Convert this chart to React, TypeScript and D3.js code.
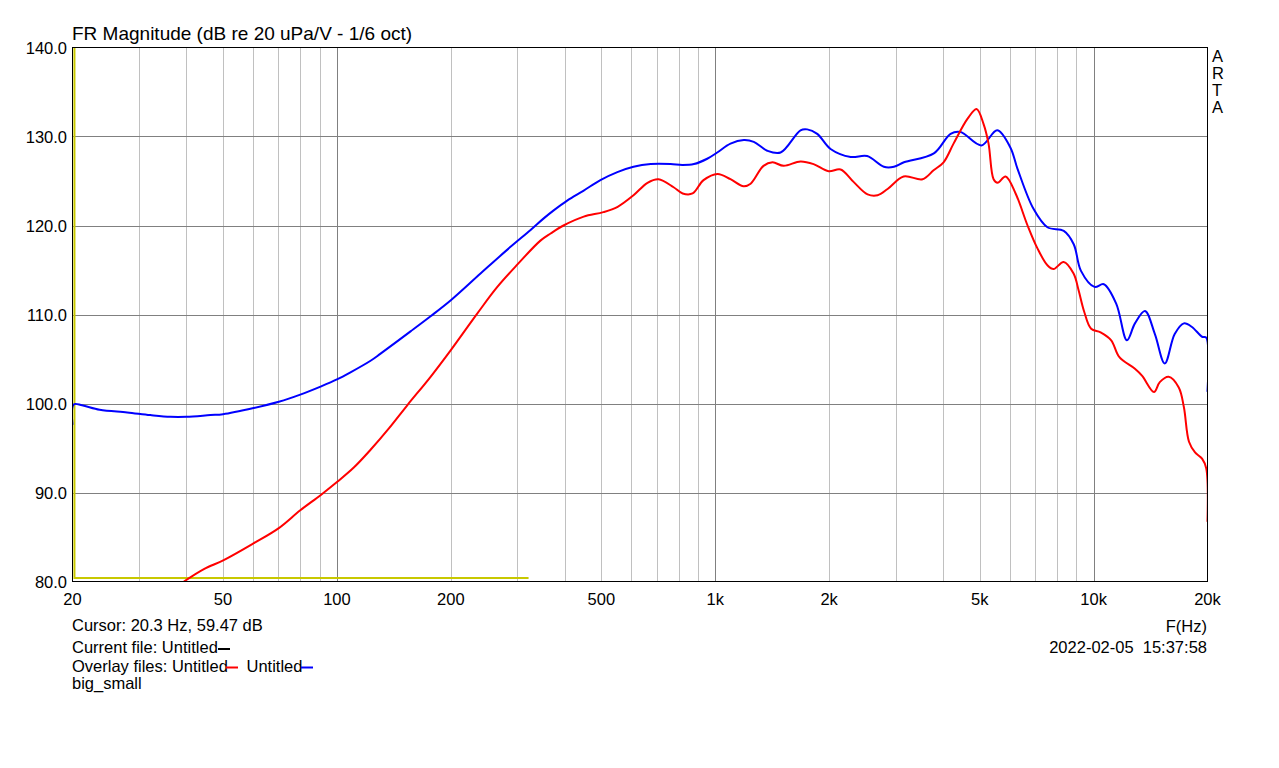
import React from "react";
import * as d3 from "d3";

// ---- Data ----
const blueSeries: [number, number][] = [
  [20, 97.6], [20.15, 99.9], [21.2, 99.8], [23.6, 99.3], [27.9, 99.0], [32.1, 98.7],
  [36.3, 98.5], [40, 98.5], [46.3, 98.7], [50, 98.8], [60.3, 99.5], [70.2, 100.2],
  [80, 101.0], [90.5, 101.9], [100, 102.7], [108.6, 103.5], [122.7, 104.8], [130.4, 105.6],
  [156.5, 108.1], [176.8, 109.8], [200, 111.6], [239.6, 114.6], [287.6, 117.6], [325, 119.5],
  [352, 120.8], [374, 121.7], [406, 122.8], [448, 123.9], [497, 125.1], [551, 126.0],
  [608, 126.6], [675, 126.9], [762, 126.9], [818, 126.8], [878, 126.9], [952, 127.5],
  [1012, 128.2], [1097, 129.2], [1190, 129.6], [1264, 129.4], [1372, 128.4], [1488, 128.2],
  [1680, 130.7], [1750, 130.8], [1860, 130.3], [2017, 128.6], [2280, 127.7], [2520, 127.8],
  [2790, 126.6], [2966, 126.6], [3152, 127.1], [3782, 128.1], [4188, 130.3], [4450, 130.5],
  [5050, 129.0], [5560, 130.7], [6020, 128.8], [6290, 126.4], [6930, 121.9], [7550, 119.8],
  [8340, 119.4], [8860, 117.9], [9260, 114.9], [10050, 113.1], [10640, 113.4], [11480, 111.2],
  [12250, 107.1], [12860, 109.0], [13670, 110.4], [14520, 107.8], [15420, 104.5], [16380, 107.8],
  [17320, 109.0], [18200, 108.6], [19350, 107.5], [19850, 107.4], [20000, 101.3],
];

const redSeries: [number, number][] = [
  [39.4, 80.0], [44.5, 81.4], [50.2, 82.4], [60.3, 84.3], [70.2, 86.0], [80, 88.0],
  [90.5, 89.7], [100.2, 91.2], [110.8, 92.8], [122.7, 94.8], [137.2, 97.2], [153.4, 99.8],
  [176.8, 103.0], [200, 106.0], [234.8, 110.1], [265.4, 113.1], [299.6, 115.6], [345, 118.3],
  [367, 119.1], [397, 120.0], [449, 121.0], [506, 121.5], [552, 122.1], [608, 123.4],
  [662, 124.8], [708, 125.2], [776, 124.3], [820, 123.6], [871, 123.6], [931, 125.1],
  [1014, 125.8], [1097, 125.2], [1188, 124.4], [1240, 124.7], [1341, 126.7], [1417, 127.1],
  [1516, 126.7], [1680, 127.2], [1819, 126.9], [1993, 126.1], [2144, 126.3], [2320, 124.9],
  [2527, 123.5], [2686, 123.4], [2854, 124.1], [3146, 125.5], [3531, 125.2], [3776, 126.2],
  [4012, 127.1], [4264, 129.2], [4644, 132.0], [4904, 133.1], [5119, 131.4], [5276, 129.2],
  [5440, 125.2], [5574, 124.8], [5852, 125.5], [6220, 123.6], [6690, 120.0], [7110, 117.4],
  [7560, 115.5], [7840, 115.1], [8333, 115.9], [8852, 114.6], [9130, 112.7], [9430, 110.4],
  [9850, 108.4], [10436, 108.0], [11130, 107.1], [11700, 105.2], [12860, 103.9], [13440, 103.1],
  [14440, 101.3], [14960, 102.4], [15790, 103.0], [16790, 101.8], [17320, 99.6], [17870, 95.7],
  [18540, 94.5], [19350, 93.8], [19850, 92.7], [20000, 86.7],
];

const yellowSeries: [number, number][] = [
  [20.24, 141], [20.24, 80.38], [321, 80.38],
];

const yTicks = [80, 90, 100, 110, 120, 130, 140];
const xTickValues = [20, 50, 100, 200, 500, 1000, 2000, 5000, 10000, 20000];
const xTickLabels = ["20", "50", "100", "200", "500", "1k", "2k", "5k", "10k", "20k"];
const majorGrid = [100, 1000, 10000];
const minorGrid: number[] = [];
[10, 100, 1000, 10000].forEach((dec) => {
  for (let m = 2; m <= 9; m++) {
    const v = dec * m;
    if (v > 20 && v < 20000) minorGrid.push(v);
  }
});

const titleText = "FR Magnitude (dB re 20 uPa/V - 1/6 oct)";
const artaLetters = ["A", "R", "T", "A"];

const W = 1279;
const H = 768;
const L = 72.5, R = 1207.5, T = 47.5, B = 581.5;
const FONT = "'Liberation Sans', Arial, sans-serif";

export default function App() {
  const x = d3.scaleLog().domain([20, 20000]).range([L, R]);
  const y = d3.scaleLinear().domain([80, 140]).range([B, T]);
  const line = d3
    .line<[number, number]>()
    .x((d) => x(d[0]))
    .y((d) => y(d[1]))
    .curve(d3.curveCatmullRom.alpha(0.5));
  const straight = d3
    .line<[number, number]>()
    .x((d) => x(d[0]))
    .y((d) => y(d[1]));

  return (
    <svg
      width={W}
      height={H}
      style={{ position: "absolute", left: 0, top: 0, background: "#fff" }}
      fontFamily={FONT}
    >
      <defs>
        <clipPath id="plotClip">
          <rect x={L} y={T} width={R - L} height={B - T} />
        </clipPath>
      </defs>
      <rect x={0} y={0} width={W} height={H} fill="#fff" />

      {minorGrid.map((v) => (
        <line key={"mi" + v} x1={Math.round(x(v)) + 0.5} x2={Math.round(x(v)) + 0.5} y1={T} y2={B} stroke="#c0c0c0" strokeWidth={1} />
      ))}
      {majorGrid.map((v) => (
        <line key={"ma" + v} x1={Math.round(x(v)) + 0.5} x2={Math.round(x(v)) + 0.5} y1={T} y2={B} stroke="#808080" strokeWidth={1} />
      ))}
      {yTicks.slice(1, -1).map((v) => (
        <line key={"hy" + v} x1={L} x2={R} y1={Math.round(y(v)) + 0.5} y2={Math.round(y(v)) + 0.5} stroke="#808080" strokeWidth={1} />
      ))}

      <g clipPath="url(#plotClip)">
        <path d={straight(yellowSeries) || ""} fill="none" stroke="#c8c800" strokeWidth={2} />
        <path d={line(blueSeries) || ""} fill="none" stroke="#0000ff" strokeWidth={2} />
        <path d={line(redSeries) || ""} fill="none" stroke="#ff0000" strokeWidth={2} />
      </g>

      <rect x={L} y={T} width={R - L} height={B - T} fill="none" stroke="#000" strokeWidth={1} />

      {yTicks.map((v) => (
        <text key={"yl" + v} x={67} y={y(v) + 6} textAnchor="end" fontSize={16.5} fill="#000">
          {v.toFixed(1)}
        </text>
      ))}
      {xTickValues.map((v, i) => (
        <text key={"xl" + v} x={x(v)} y={605} textAnchor="middle" fontSize={16.5} fill="#000">
          {xTickLabels[i]}
        </text>
      ))}

      <text x={72} y={39.5} fontSize={19} fill="#000">{titleText}</text>

      {artaLetters.map((c, i) => (
        <text key={"a" + i} x={1212} y={61.5 + i * 17} fontSize={16.5} fill="#000">{c}</text>
      ))}

      <text x={1207} y={631.5} textAnchor="end" fontSize={16.5} fill="#000">F(Hz)</text>
      <text x={1207} y={653.3} textAnchor="end" fontSize={16.5} fill="#000" style={{ whiteSpace: "pre" }}>
        {"2022-02-05  15:37:58"}
      </text>

      <text x={72} y={630.7} fontSize={16.5} fill="#000">Cursor: 20.3 Hz, 59.47 dB</text>
      <text x={72} y={653.3} fontSize={16.5} fill="#000">Current file: Untitled</text>
      <line x1={218} x2={230} y1={649} y2={649} stroke="#000" strokeWidth={2} />
      <text x={72} y={671.7} fontSize={16.5} fill="#000">Overlay files: Untitled</text>
      <line x1={226} x2={238} y1={667.5} y2={667.5} stroke="#ff0000" strokeWidth={2} />
      <text x={246.5} y={671.7} fontSize={16.5} fill="#000">Untitled</text>
      <line x1={301} x2={313} y1={667.5} y2={667.5} stroke="#0000ff" strokeWidth={2} />
      <text x={72} y={689} fontSize={16.5} fill="#000">big_small</text>
    </svg>
  );
}
